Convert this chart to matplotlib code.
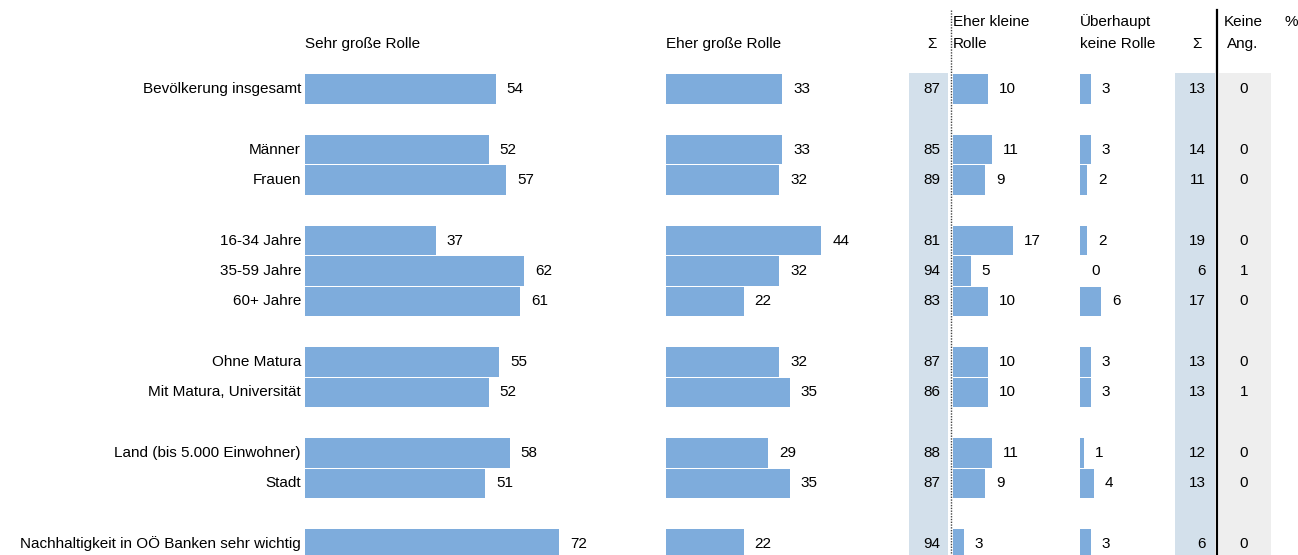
import numpy as np
import matplotlib.pyplot as plt

plt.rcParams['font.family'] = ['Liberation Sans', 'DejaVu Sans']

# Data
labels = ["Bevölkerung insgesamt", "Männer", "Frauen", "16-34 Jahre", "35-59 Jahre",
          "60+ Jahre", "Ohne Matura", "Mit Matura, Universität",
          "Land (bis 5.000 Einwohner)", "Stadt", "Nachhaltigkeit in OÖ Banken sehr wichtig"]
rows = [0, 2, 3, 5, 6, 7, 9, 10, 12, 13, 15]
sehr_gross = [54, 52, 57, 37, 62, 61, 55, 52, 58, 51, 72]
eher_gross = [33, 33, 32, 44, 32, 22, 32, 35, 29, 35, 22]
sum_gross = [87, 85, 89, 81, 94, 83, 87, 86, 88, 87, 94]
eher_klein = [10, 11, 9, 17, 5, 10, 10, 10, 11, 9, 3]
keine_rolle = [3, 3, 2, 2, 0, 6, 3, 3, 1, 4, 3]
sum_klein = [13, 14, 11, 19, 6, 17, 13, 13, 12, 13, 6]
keine_ang = [0, 0, 0, 0, 1, 0, 0, 1, 0, 0, 0]

# Layout (x in pixels, y in row units)
W, H = 1298, 555
y_first, pitch = 89, 30.33
scale = 3.53
bar_color = '#7eacdc'
sum_bg = '#d3e0eb'
na_bg = '#eeeeee'
fs = 11

fig = plt.figure(figsize=(W / 100, H / 100), dpi=100)
ax = fig.add_axes([0, 0, 1, 1])
ax.set_xlim(0, W)
ax.set_ylim((H - y_first) / pitch, -y_first / pitch)
ax.axis('off')

def row_of(px):
    return (px - y_first) / pitch

y = np.array(rows)
bottom = (H - y_first) / pitch

# shaded columns
for x0, x1, c in [(909, 948, sum_bg), (1175, 1215, sum_bg), (1219, 1271, na_bg)]:
    ax.fill_between([x0, x1], row_of(73), bottom, color=c, lw=0, zorder=0)

# bar columns
for x0, vals in [(305, sehr_gross), (666, eher_gross), (953, eher_klein), (1080, keine_rolle)]:
    v = np.array(vals)
    ax.barh(y, v * scale, left=x0, height=0.96, color=bar_color,
            edgecolor='none', zorder=2)
    for yy, vv in zip(y, v):
        ax.text(x0 + vv * scale + 11, yy, str(vv), ha='left', va='center', fontsize=fs)

# category labels
for yy, lab in zip(y, labels):
    ax.text(301, yy, lab, ha='right', va='center', fontsize=fs)

# sums and no answer
for yy, a, b, c in zip(y, sum_gross, sum_klein, keine_ang):
    ax.text(940, yy, str(a), ha='right', va='center', fontsize=fs)
    ax.text(1206, yy, str(b), ha='right', va='center', fontsize=fs)
    ax.text(1244, yy, str(c), ha='center', va='center', fontsize=fs)

# separators
ax.plot([951, 951], [row_of(10), bottom], color='#444444', lw=1, ls=(0, (1, 1)), zorder=3)
ax.plot([1217, 1217], [row_of(10), bottom], color='black', lw=1.6, zorder=3)

# headers
h1, h2 = row_of(44), row_of(22)
ax.text(305, h1, "Sehr große Rolle", ha='left', va='center', fontsize=fs)
ax.text(666, h1, "Eher große Rolle", ha='left', va='center', fontsize=fs)
ax.text(932, h1, "Σ", ha='center', va='center', fontsize=fs)
ax.text(953, h2, "Eher kleine", ha='left', va='center', fontsize=fs)
ax.text(953, h1, "Rolle", ha='left', va='center', fontsize=fs)
ax.text(1080, h2, "Überhaupt", ha='left', va='center', fontsize=fs)
ax.text(1080, h1, "keine Rolle", ha='left', va='center', fontsize=fs)
ax.text(1197, h1, "Σ", ha='center', va='center', fontsize=fs)
ax.text(1243, h2, "Keine", ha='center', va='center', fontsize=fs)
ax.text(1243, h1, "Ang.", ha='center', va='center', fontsize=fs)
ax.text(1291, h2, "%", ha='center', va='center', fontsize=fs)

fig.savefig('out.png', dpi=100)
